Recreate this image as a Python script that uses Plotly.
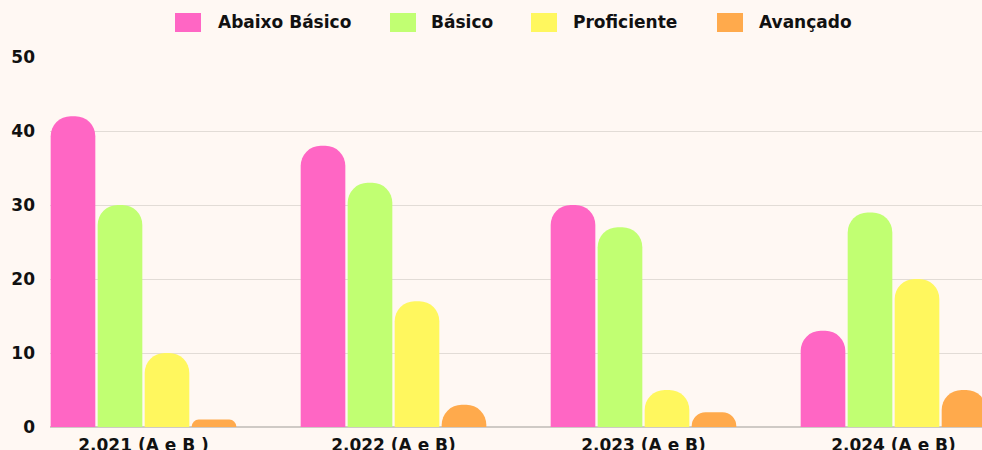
import plotly.graph_objects as go

categories = ["2.021 (A e B )", "2.022 (A e B)", "2.023 (A e B)", "2.024 (A e B)"]
series_names = ["Abaixo Básico", "Básico", "Proficiente", "Avançado"]
abaixo_basico = [42, 38, 30, 13]
basico = [30, 33, 27, 29]
proficiente = [10, 17, 5, 20]
avancado = [1, 3, 2, 5]
y_ticks = [0, 10, 20, 30, 40, 50]

colors = ["#FF66C4", "#C1FF72", "#FFF75E", "#FFAA4C"]
values = [abaixo_basico, basico, proficiente, avancado]

W, H = 982, 450
ML, MR, MT, MB = 50, 0, 57, 23
PW, PH = W - ML - MR, H - MT - MB

fig = go.Figure()
for name, vals, col in zip(series_names, values, colors):
    fig.add_trace(go.Bar(
        x=categories, y=vals, name=name, showlegend=False,
        marker=dict(color=col, line=dict(color=col, width=0)),
    ))

# custom legend (pixel layout -> paper coords)
legend_swatch_x = [175, 390, 531, 717]
legend_text_x = [216, 429, 571, 757]
sw_w, sw_top, sw_bot, text_y = 26, 13, 32, 22.5
shapes, annots = [], []
for name, col, sx, tx in zip(series_names, colors, legend_swatch_x, legend_text_x):
    shapes.append(dict(
        type="rect", xref="paper", yref="paper",
        x0=(sx - ML) / PW, x1=(sx + sw_w - ML) / PW,
        y0=(MT + PH - sw_bot) / PH, y1=(MT + PH - sw_top) / PH,
        fillcolor=col, line=dict(width=0), layer="above",
    ))
    annots.append(dict(
        text=name, xref="paper", yref="paper",
        x=(tx - ML) / PW, y=(MT + PH - text_y) / PH,
        xanchor="left", yanchor="middle", showarrow=False,
        font=dict(family="DejaVu Sans", size=17, color="#111111", weight="bold"),
    ))

bg = "#FFF8F3"
fig.update_layout(
    width=W, height=H,
    paper_bgcolor=bg, plot_bgcolor=bg,
    margin=dict(l=ML, r=MR, t=MT, b=MB, autoexpand=False),
    barmode="group", bargap=0.248, bargroupgap=0.05,
    barcornerradius=20,
    showlegend=False,
    shapes=shapes, annotations=annots,
    xaxis=dict(
        type="category", range=[-0.374, 3.354],
        showgrid=False, showline=False, ticks="", automargin=False,
        tickfont=dict(family="DejaVu Sans", size=17, color="#111111", weight="bold"),
        ticklabelstandoff=6,
    ),
    yaxis=dict(
        range=[0, 50], tickvals=y_ticks, automargin=False,
        showgrid=True, gridcolor="#E2DCD6", gridwidth=1,
        zeroline=True, zerolinecolor="#CFCAC5", zerolinewidth=1.5,
        showline=False, ticks="",
        tickfont=dict(family="DejaVu Sans", size=17, color="#111111", weight="bold"),
        ticklabelstandoff=14,
    ),
)

fig.write_html(
    "out.html",
    config={"displayModeBar": False},
    post_script="document.body.style.margin='0';document.body.style.overflow='hidden';document.body.style.background='" + bg + "';",
)
